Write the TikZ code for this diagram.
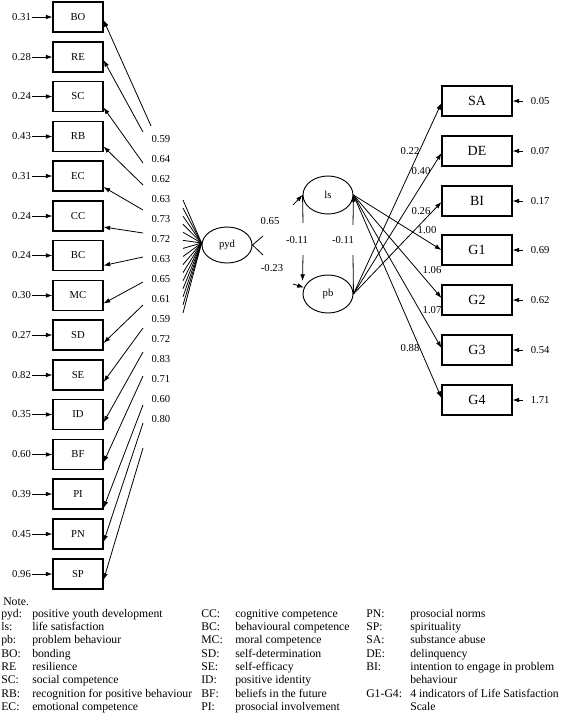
\documentclass[tikz,border=0pt]{standalone}
\usepackage{fontspec}
\setmainfont{Liberation Serif}
\usepackage{tikz}
\usetikzlibrary{positioning, calc, shapes, arrows.meta}

\tikzset{
	ind/.style={draw, line width=0.8pt, minimum width=37.5pt, minimum height=22.5pt, inner sep=0pt, font=\fontsize{8}{10}\selectfont},
	outc/.style={draw, line width=0.8pt, minimum width=52.5pt, minimum height=22.5pt, inner sep=0pt, font=\fontsize{10.5}{12}\selectfont},
	lat/.style={draw, ellipse, line width=0.7pt, minimum width=37.5pt, minimum height=27pt, inner sep=0pt, font=\fontsize{8}{10}\selectfont},
	num/.style={inner sep=1pt, font=\fontsize{8}{9}\selectfont},
	errr/.style={num, inner xsep=6pt},
	path/.style={-{Latex[length=5pt,width=3.5pt]}, line width=0.6pt},
	stub/.style={line width=0.6pt},
}

\begin{document}
\begin{tikzpicture}[x=0.75pt, y=-0.75pt]
	\useasboundingbox (0,0) rectangle (568,715);
	
	%% indicators of pyd
	\node[ind] (BO) at (78,17) {BO};
	\node[ind] (RE) at (78,57) {RE};
	\node[ind] (SC) at (78,96.5) {SC};
	\node[ind] (RB) at (78,136.5) {RB};
	\node[ind] (EC) at (78,176) {EC};
	\node[ind] (CC) at (78,216) {CC};
	\node[ind] (BC) at (78,255.5) {BC};
	\node[ind] (MC) at (78,295.5) {MC};
	\node[ind] (SD) at (78,335) {SD};
	\node[ind] (SE) at (78,375) {SE};
	\node[ind] (ID) at (78,414.5) {ID};
	\node[ind] (BF) at (78,454.5) {BF};
	\node[ind] (PI) at (78,494) {PI};
	\node[ind] (PN) at (78,534) {PN};
	\node[ind] (SP) at (78,574) {SP};
	
	%% error terms
	\node[num, left=15pt of BO] (eBO) {0.31};
	\node[num, left=15pt of RE] (eRE) {0.28};
	\node[num, left=15pt of SC] (eSC) {0.24};
	\node[num, left=15pt of RB] (eRB) {0.43};
	\node[num, left=15pt of EC] (eEC) {0.31};
	\node[num, left=15pt of CC] (eCC) {0.24};
	\node[num, left=15pt of BC] (eBC) {0.24};
	\node[num, left=15pt of MC] (eMC) {0.30};
	\node[num, left=15pt of SD] (eSD) {0.27};
	\node[num, left=15pt of SE] (eSE) {0.82};
	\node[num, left=15pt of ID] (eID) {0.35};
	\node[num, left=15pt of BF] (eBF) {0.60};
	\node[num, left=15pt of PI] (ePI) {0.39};
	\node[num, left=15pt of PN] (ePN) {0.45};
	\node[num, left=15pt of SP] (eSP) {0.96};
	\foreach \n in {BO,RE,SC,RB,EC,CC,BC,MC,SD,SE,ID,BF,PI,PN,SP}
		\draw[path] (e\n) -- (\n);
	
	%% loadings
	\node[num, anchor=west] (l1) at (150,139) {0.59};
	\node[num, anchor=west] (l2) at (150,159) {0.64};
	\node[num, anchor=west] (l3) at (150,179) {0.62};
	\node[num, anchor=west] (l4) at (150,199) {0.63};
	\node[num, anchor=west] (l5) at (150,219) {0.73};
	\node[num, anchor=west] (l6) at (150,239) {0.72};
	\node[num, anchor=west] (l7) at (150,259) {0.63};
	\node[num, anchor=west] (l8) at (150,279) {0.65};
	\node[num, anchor=west] (l9) at (150,299) {0.61};
	\node[num, anchor=west] (l10) at (150,319) {0.59};
	\node[num, anchor=west] (l11) at (150,339) {0.72};
	\node[num, anchor=west] (l12) at (150,359) {0.83};
	\node[num, anchor=west] (l13) at (150,379) {0.71};
	\node[num, anchor=west] (l14) at (150,399) {0.60};
	\node[num, anchor=west] (l15) at (150,419) {0.80};
	
	\coordinate (sBO) at (151,126);
	\coordinate (sRE) at (143,132);
	\coordinate (sSC) at (143,163);
	\coordinate (sRB) at (143,185);
	\coordinate (sEC) at (143,210);
	\coordinate (sCC) at (143,233);
	\coordinate (sBC) at (143,257);
	\coordinate (sMC) at (143,282);
	\coordinate (sSD) at (143,305);
	\coordinate (sSE) at (143,328);
	\coordinate (sID) at (143,352);
	\coordinate (sBF) at (143,376);
	\coordinate (sPI) at (143,405);
	\coordinate (sPN) at (143,423);
	\coordinate (sSP) at (143,448);
	\draw[path] (sBO) -- ($(BO.east)+(0,3)$);
	\draw[path] (sRE) -- ($(RE.east)+(0,3)$);
	\draw[path] (sSC) -- ($(SC.east)+(0,11)$);
	\draw[path] (sRB) -- ($(RB.east)+(0,10)$);
	\draw[path] (sEC) -- ($(EC.east)+(0,11)$);
	\draw[path] (sCC) -- ($(CC.east)+(0,11)$);
	\draw[path] (sBC) -- ($(BC.east)+(0,10)$);
	\draw[path] (sMC) -- ($(MC.east)+(0,8)$);
	\draw[path] (sSD) -- ($(SD.east)+(0,8)$);
	\draw[path] (sSE) -- ($(SE.east)+(0,7)$);
	\draw[path] (sID) -- ($(ID.east)+(0,8)$);
	\draw[path] (sBF) -- ($(BF.east)+(0,8)$);
	\draw[path] (sPI) -- ($(PI.east)+(0,14)$);
	\draw[path] (sPN) -- ($(PN.east)+(0,8)$);
	\draw[path] (sSP) -- ($(SP.east)+(0,6)$);
	
	%% latent variables
	\node[lat] (pyd) at (227,245) {pyd};
	\node[lat, minimum height=28.5pt] (Is) at (328,195) {ls};
	\node[lat, minimum height=28.5pt] (pb) at (328,294) {pb};
	
	\foreach \k in {0,...,14} {
		\coordinate (f\k) at (183,{200+8.07*\k});
		\draw[stub] ($(pyd.west)+(0,-2)$) -- (f\k);
	}
	
	\coordinate (a1) at (263,236);
	\coordinate (a2) at (263,255);
	\draw[stub] (pyd.east) -- (a1);
	\draw[stub] (pyd.east) -- (a2);
	\coordinate (b1) at (293,205);
	\coordinate (b2) at (293,284);
	\draw[path] (b1) -- (Is.west);
	\draw[path] (b2) -- (pb.165);
	\node[num] (c1) at (270,221) {0.65};
	\node[num] (c2) at (272,268) {-0.23};
	
	\coordinate (v1) at (303,223);
	\coordinate (v2) at (303,255);
	\coordinate (v3) at (353,255);
	\coordinate (v4) at (353,225);
	\draw[stub] (Is.west) -- (v1);
	\draw[path] (v2) -- ($(pb.west)+(0,-13)$);
	\draw[stub] (pb.east) -- (v3);
	\draw[path] (v4) -- (Is.east);
	\node[num] (c3) at (297,240) {-0.11};
	\node[num] (c4) at (343,240) {-0.11};
	
	%% outcomes
	\node[outc] (SA) at (477,101) {SA};
	\node[outc] (DE) at (477,151) {DE};
	\node[outc] (BI) at (477,201) {BI};
	\node[outc] (G1) at (477,250) {G1};
	\node[outc] (G2) at (477,300) {G2};
	\node[outc] (G3) at (477,350) {G3};
	\node[outc] (G4) at (477,400) {G4};
	\node[errr, right=7.5pt of SA] (eSA) {0.05};
	\node[errr, right=7.5pt of DE] (eDE) {0.07};
	\node[errr, right=7.5pt of BI] (eBI) {0.17};
	\node[errr, right=7.5pt of G1] (eG1) {0.69};
	\node[errr, right=7.5pt of G2] (eG2) {0.62};
	\node[errr, right=7.5pt of G3] (eG3) {0.54};
	\node[errr, right=7.5pt of G4] (eG4) {1.71};
	\foreach \n in {SA,DE,BI,G1,G2,G3,G4}
		\draw[path] (e\n) -- (\n);
	
	\draw[path] (pb.east) -- ($(SA.west)+(0,2)$);
	\draw[path] (pb.east) -- ($(DE.west)+(0,2)$);
	\draw[path] (pb.east) -- ($(BI.west)+(0,1)$);
	\draw[path] (Is.east) -- (G1.west);
	\draw[path] (Is.east) -- ($(G2.west)+(0,-2)$);
	\draw[path] (Is.east) -- ($(G3.west)+(0,-2)$);
	\draw[path] (Is.east) -- ($(G4.west)+(0,-2)$);
	\node[num] (p1) at (410,151) {0.22};
	\node[num] (p2) at (421,171) {0.40};
	\node[num] (p3) at (421,211) {0.26};
	\node[num] (p4) at (427,230) {1.00};
	\node[num] (p5) at (432,270) {1.06};
	\node[num] (p6) at (432,310) {1.07};
	\node[num] (p7) at (410,348) {0.88};
	
	%% note
	\node[anchor=west, inner sep=0pt, font=\fontsize{8.8}{10}\selectfont] (note) at (3,602) {Note.};
	\node[anchor=north west, inner sep=0pt, font=\fontsize{8.8}{10}\selectfont] (legend) at (1,607.5) {%
		\setlength{\tabcolsep}{0pt}%
		\begin{tabular}{p{23.25pt}p{126.75pt}p{25.5pt}p{98.25pt}p{33pt}l}
			pyd: & positive youth development & CC: & cognitive competence & PN: & prosocial norms\\
			ls: & life satisfaction & BC: & behavioural competence & SP: & spirituality\\
			pb: & problem behaviour & MC: & moral competence & SA: & substance abuse\\
			BO: & bonding & SD: & self-determination & DE: & delinquency\\
			RE & resilience & SE: & self-efficacy & BI: & intention to engage in problem\\
			SC: & social competence & ID: & positive identity & & behaviour\\
			RB: & recognition for positive behaviour & BF: & beliefs in the future & G1-G4: & 4 indicators of Life Satisfaction\\
			EC: & emotional competence & PI: & prosocial involvement & & Scale
		\end{tabular}};
\end{tikzpicture}
\end{document}
